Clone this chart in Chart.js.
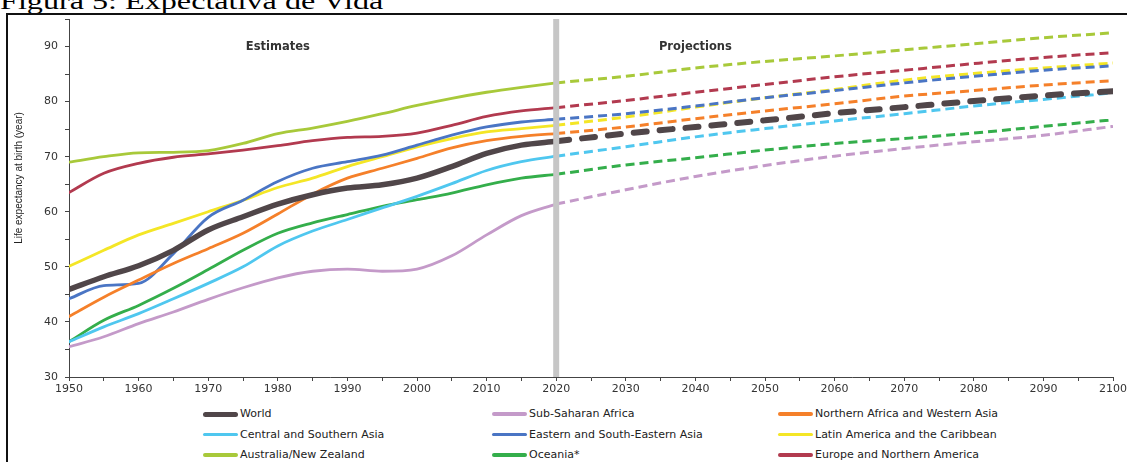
<!DOCTYPE html>
<html>
<head>
<meta charset="utf-8">
<script src="https://cdn.jsdelivr.net/npm/chart.js@4.4.0/dist/chart.umd.min.js"></script>
<style>
body{margin:0;width:1127px;height:462px;overflow:hidden;background:#fff;position:relative;font-family:"DejaVu Sans",sans-serif;}
#titulo{position:absolute;left:0;top:-11px;font:24px/24px "Liberation Serif",serif;transform:scaleX(1.34);transform-origin:0 0;white-space:nowrap;color:#000;}
#marco{position:absolute;left:6px;top:13px;width:1300px;height:600px;border:2px solid #111;}
#caja{position:absolute;left:0;top:0;width:1140px;height:400px;}
.ley{position:absolute;height:16px;font-size:11px;line-height:16px;color:#222;white-space:nowrap;}
.ley span{position:absolute;left:0;width:35px;border-radius:3px;}
.ley b{position:absolute;left:37px;top:0;font-weight:normal;}
</style>
</head>
<body>
<div id="titulo">Figura 5: Expectativa de Vida</div>
<div id="marco"></div>
<div id="caja"><canvas id="grafica"></canvas></div>
<div id="leyenda"></div>
<script>
// años
var anosEst = [1950,1955,1960,1965,1970,1975,1980,1985,1990,1995,2000,2005,2010,2015,2020];
var anosProy = [2020,2030,2040,2050,2060,2070,2080,2090,2100];

var regiones = ['World','Sub-Saharan Africa','Northern Africa and Western Asia',
    'Central and Southern Asia','Eastern and South-Eastern Asia','Latin America and the Caribbean',
    'Australia/New Zealand','Oceania*','Europe and Northern America'];

// estimaciones 1950-2020
var mundoEst    = [45.9,48.2,50.2,53.0,56.7,59.1,61.4,63.1,64.3,64.9,66.1,68.2,70.6,72.1,72.8];
var subsaharaEst= [35.5,37.3,39.7,41.8,44.1,46.2,48.0,49.2,49.6,49.2,49.6,52.0,55.8,59.3,61.4];
var nafricaEst  = [41.0,44.5,47.6,50.6,53.3,56.1,59.6,63.2,66.1,67.9,69.7,71.6,72.9,73.7,74.2];
var casiaEst    = [36.4,39.1,41.5,44.2,47.0,50.0,53.8,56.5,58.6,60.7,62.8,65.1,67.5,69.1,70.1];
var easiaEst    = [44.2,46.6,47.0,52.4,59.0,62.1,65.5,67.9,69.1,70.3,72.1,73.9,75.4,76.3,76.8];
var latamEst    = [50.1,53.0,55.8,57.9,60.0,62.1,64.4,66.1,68.2,70.0,71.8,73.3,74.5,75.1,75.7];
var ausnzEst    = [69.0,70.0,70.7,70.8,71.1,72.4,74.2,75.2,76.4,77.8,79.3,80.6,81.7,82.6,83.4];
var oceaniaEst  = [36.4,40.3,43.0,46.1,49.5,53.0,56.1,58.0,59.5,61.0,62.2,63.4,64.9,66.1,66.8];
var europaEst   = [63.5,67.0,68.8,69.9,70.5,71.2,72.0,72.9,73.5,73.7,74.3,75.7,77.3,78.3,78.9];

// proyecciones 2020-2100
var mundoProy    = [72.8,74.2,75.4,76.6,77.9,79.0,80.1,81.1,81.9];
var subsaharaProy= [61.4,64.0,66.4,68.4,70.1,71.5,72.7,73.9,75.5];
var nafricaProy  = [74.2,75.4,76.9,78.3,79.6,81.0,82.0,83.0,83.8];
var casiaProy    = [70.1,71.8,73.6,75.1,76.5,77.8,79.2,80.4,81.6];
var easiaProy    = [76.8,77.8,79.2,80.7,82.0,83.4,84.6,85.7,86.5];
var latamProy    = [75.7,77.2,79.0,80.7,82.2,83.9,85.1,86.1,87.0];
var ausnzProy    = [83.4,84.6,86.1,87.3,88.3,89.4,90.5,91.6,92.5];
var oceaniaProy  = [66.8,68.5,69.8,71.2,72.4,73.3,74.3,75.5,76.7];
var europaProy   = [78.9,80.2,81.7,83.1,84.5,85.7,86.9,88.0,88.9];

var estimaciones = [mundoEst,subsaharaEst,nafricaEst,casiaEst,easiaEst,latamEst,ausnzEst,oceaniaEst,europaEst];
var proyecciones = [mundoProy,subsaharaProy,nafricaProy,casiaProy,easiaProy,latamProy,ausnzProy,oceaniaProy,europaProy];

var colores = ['#504649','#c49ac9','#f5802a','#4fc7ef','#4a75c4','#f4e626','#a8c93a','#34ae4b','#b23a4f'];

function puntos(anos, valores){
    var p = [];
    for(var i=0;i<anos.length;i++){ p.push({x:anos[i], y:valores[i]}); }
    return p;
}

var datasets = [];
for(var i=0;i<regiones.length;i++){
    var grueso = (i==0);
    datasets.push({
        label: regiones[i],
        data: puntos(anosEst, estimaciones[i]),
        borderColor: colores[i],
        borderWidth: grueso ? 5.5 : 2.8,
        borderCapStyle: 'round',
        pointRadius: 0,
        cubicInterpolationMode: 'monotone'
    });
    datasets.push({
        label: regiones[i] + ' (proy)',
        data: puntos(anosProy, proyecciones[i]),
        borderColor: colores[i],
        borderWidth: grueso ? 6 : 3,
        borderDash: grueso ? [13,13] : [9,5],
        borderCapStyle: grueso ? 'round' : 'butt',
        pointRadius: 0,
        cubicInterpolationMode: 'monotone'
    });
}
// World arriba de todo: el primero se dibuja al final
var extras = {
    id: 'extras',
    afterDatasetsDraw: function(ch){
        var c = ch.ctx, a = ch.chartArea, sx = ch.scales.x, sy = ch.scales.y;
        var x = sx.getPixelForValue(2020);
        c.save();
        c.fillStyle = '#c6c6c6';
        c.fillRect(x-3, a.top, 6, a.bottom-a.top);
        c.fillStyle = '#333';
        c.font = 'bold 11.5px "DejaVu Sans"';
        c.textAlign = 'center';
        c.textBaseline = 'middle';
        c.fillText('Estimates', sx.getPixelForValue(1980), sy.getPixelForValue(90));
        c.fillText('Projections', sx.getPixelForValue(2040), sy.getPixelForValue(90));
        c.translate(19, 178);
        c.rotate(-Math.PI/2);
        c.font = '10px "Liberation Sans"';
        c.fillStyle = '#222';
        c.fillText('Life expectancy at birth (year)', 0, 0);
        c.restore();
    }
};

var ctx = document.getElementById('grafica');
var chart = new Chart(ctx, {
    type: 'line',
    data: { datasets: datasets },
    plugins: [extras],
    options: {
        responsive: true,
        maintainAspectRatio: false,
        animation: false,
        layout: { padding: { left: 0, right: 27, top: 19, bottom: 0 } },
        plugins: { legend: { display: false }, tooltip: { enabled: false } },
        scales: {
            x: {
                type: 'linear', min: 1950, max: 2100,
                afterFit: function(s){ s.height = 23; },
                grid: { drawOnChartArea: false, drawTicks: true, tickLength: 4, color: '#444' },
                border: { color: '#444', width: 1 },
                ticks: {
                    stepSize: 5, autoSkip: false, maxRotation: 0, padding: 2, color: '#333',
                    font: { family: 'DejaVu Sans', size: 11 },
                    callback: function(v){ return v % 10 == 0 ? String(v) : ''; }
                }
            },
            y: {
                min: 30, max: 95,
                afterFit: function(s){ s.width = 69; },
                grid: { drawOnChartArea: false, drawTicks: true, tickLength: 4, color: '#444' },
                border: { color: '#444', width: 1 },
                ticks: {
                    stepSize: 5, padding: 7, color: '#333',
                    font: { family: 'DejaVu Sans', size: 11 },
                    callback: function(v){ return v % 10 == 0 ? String(v) : ''; }
                }
            }
        }
    }
});

// leyenda en 3 columnas
var colX = [203, 492, 778];
var filaY = [414, 434.5, 455];
var ley = document.getElementById('leyenda');
for(var j=0;j<regiones.length;j++){
    var d = document.createElement('div');
    d.className = 'ley';
    d.style.left = colX[j%3] + 'px';
    d.style.top = (filaY[Math.floor(j/3)] - 8) + 'px';
    var h = (j==0) ? 5 : 3.5;
    var s = document.createElement('span');
    s.style.background = colores[j];
    s.style.height = h + 'px';
    s.style.top = (8 - h/2) + 'px';
    var t = document.createElement('b');
    t.textContent = regiones[j];
    d.appendChild(s);
    d.appendChild(t);
    ley.appendChild(d);
}
</script>
</body>
</html>
